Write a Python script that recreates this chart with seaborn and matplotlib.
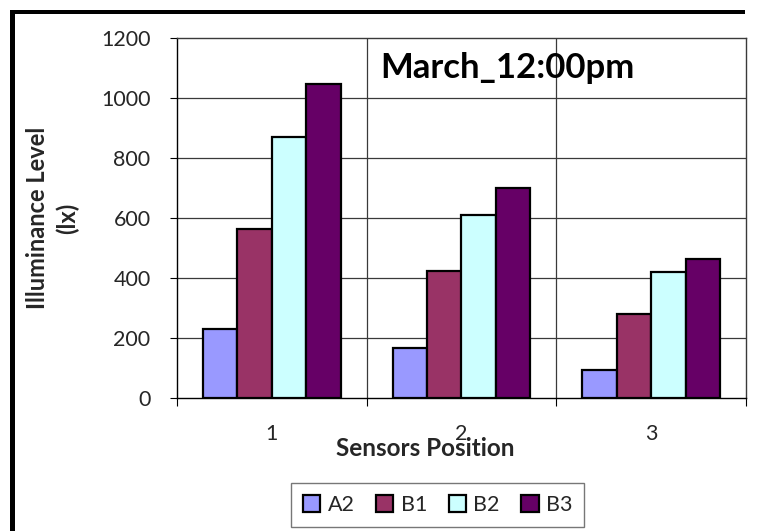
import matplotlib
matplotlib.use("Agg")
import matplotlib.pyplot as plt
import seaborn as sns
import pandas as pd
from matplotlib.patches import Rectangle

positions = ["1", "2", "3"]
series = ["A2", "B1", "B2", "B3"]
a2 = [229, 168, 92]
b1 = [564, 425, 281]
b2 = [869, 610, 420]
b3 = [1047, 699, 463]
colors = ["#9999FF", "#993366", "#CCFFFF", "#660066"]
yticks = [0, 200, 400, 600, 800, 1000, 1200]
title = "March_12:00pm"

df = pd.DataFrame({
    "Position": positions * 4,
    "Series": [s for s in series for _ in positions],
    "Value": a2 + b1 + b2 + b3,
})

sns.set_theme(style="white")
plt.rcParams["font.family"] = ["Lato", "DejaVu Sans"]

W, H = 760, 531
fig = plt.figure(figsize=(W / 100, H / 100), dpi=100, facecolor="white")
ax = fig.add_axes([177 / W, 1 - 398 / H, (746 - 177) / W, (398 - 38) / H])

sns.barplot(data=df, x="Position", y="Value", hue="Series", hue_order=series,
            order=positions, palette=colors, width=0.726, ax=ax,
            edgecolor="black", linewidth=1.6, saturation=1, legend=True)

ax.set_xlim(-0.5, 2.5)
ax.set_ylim(0, 1200)
ax.set_yticks(yticks)
ax.set_yticklabels([str(v) for v in yticks], fontsize=15.5)
ax.tick_params(axis="y", direction="out", length=5, width=0.8, pad=14,
               left=True, color="black")
ax.tick_params(axis="x", which="major", length=0, pad=19, labelsize=15.5)
ax.set_xticks([-0.5, 0.5, 1.5, 2.5], minor=True)
ax.tick_params(axis="x", which="minor", direction="out", length=6, width=0.8,
               bottom=True, color="black")
ax.set_xlabel("")
ax.set_ylabel("")

ax.grid(False)
for v in yticks[1:-1]:
    ax.axhline(v, color="#3a3a3a", lw=0.9, zorder=0)
for v in [0.5, 1.5]:
    ax.axvline(v, color="#3a3a3a", lw=0.9, zorder=0)
for s in ["left", "bottom"]:
    ax.spines[s].set_color("black")
    ax.spines[s].set_linewidth(1.0)
for s in ["top", "right"]:
    ax.spines[s].set_color("#3a3a3a")
    ax.spines[s].set_linewidth(1.0)

ax.text(0.574, 1100, title, fontsize=25, fontweight="bold", ha="left",
        va="center", color="black")

fig.text(53 / W, 1 - 218 / H, "Illuminance Level\n(lx)", rotation=90,
         ha="center", va="center", fontsize=17, fontweight="bold",
         multialignment="center", linespacing=1.35)
fig.text(425 / W, 1 - 449 / H, "Sensors Position", ha="center", va="center",
         fontsize=17.5, fontweight="bold")

handles, labels = ax.get_legend_handles_labels()
ax.legend_.remove()
leg = fig.legend(handles, labels, loc="upper left",
                 bbox_to_anchor=(291 / W, 1 - 483 / H), ncol=4,
                 fontsize=15.5, frameon=True, fancybox=False,
                 edgecolor="#555555", handlelength=0.8, handleheight=0.8,
                 handletextpad=0.35, columnspacing=1.0, borderpad=0.55,
                 borderaxespad=0)
leg.get_frame().set_linewidth(1.0)
for h in leg.legend_handles:
    h.set_edgecolor("black")
    h.set_linewidth(1.6)

# outer chart border (left and top edges only; the rest is cropped)
fig.patches.append(Rectangle((10 / W, 0), 5 / W, 1 - 10 / H,
                             transform=fig.transFigure, facecolor="black",
                             edgecolor="none", linewidth=0))
fig.patches.append(Rectangle((10 / W, 1 - 14 / H), 735 / W, 4 / H,
                             transform=fig.transFigure, facecolor="black",
                             edgecolor="none", linewidth=0))

fig.savefig("out.png", dpi=100)
